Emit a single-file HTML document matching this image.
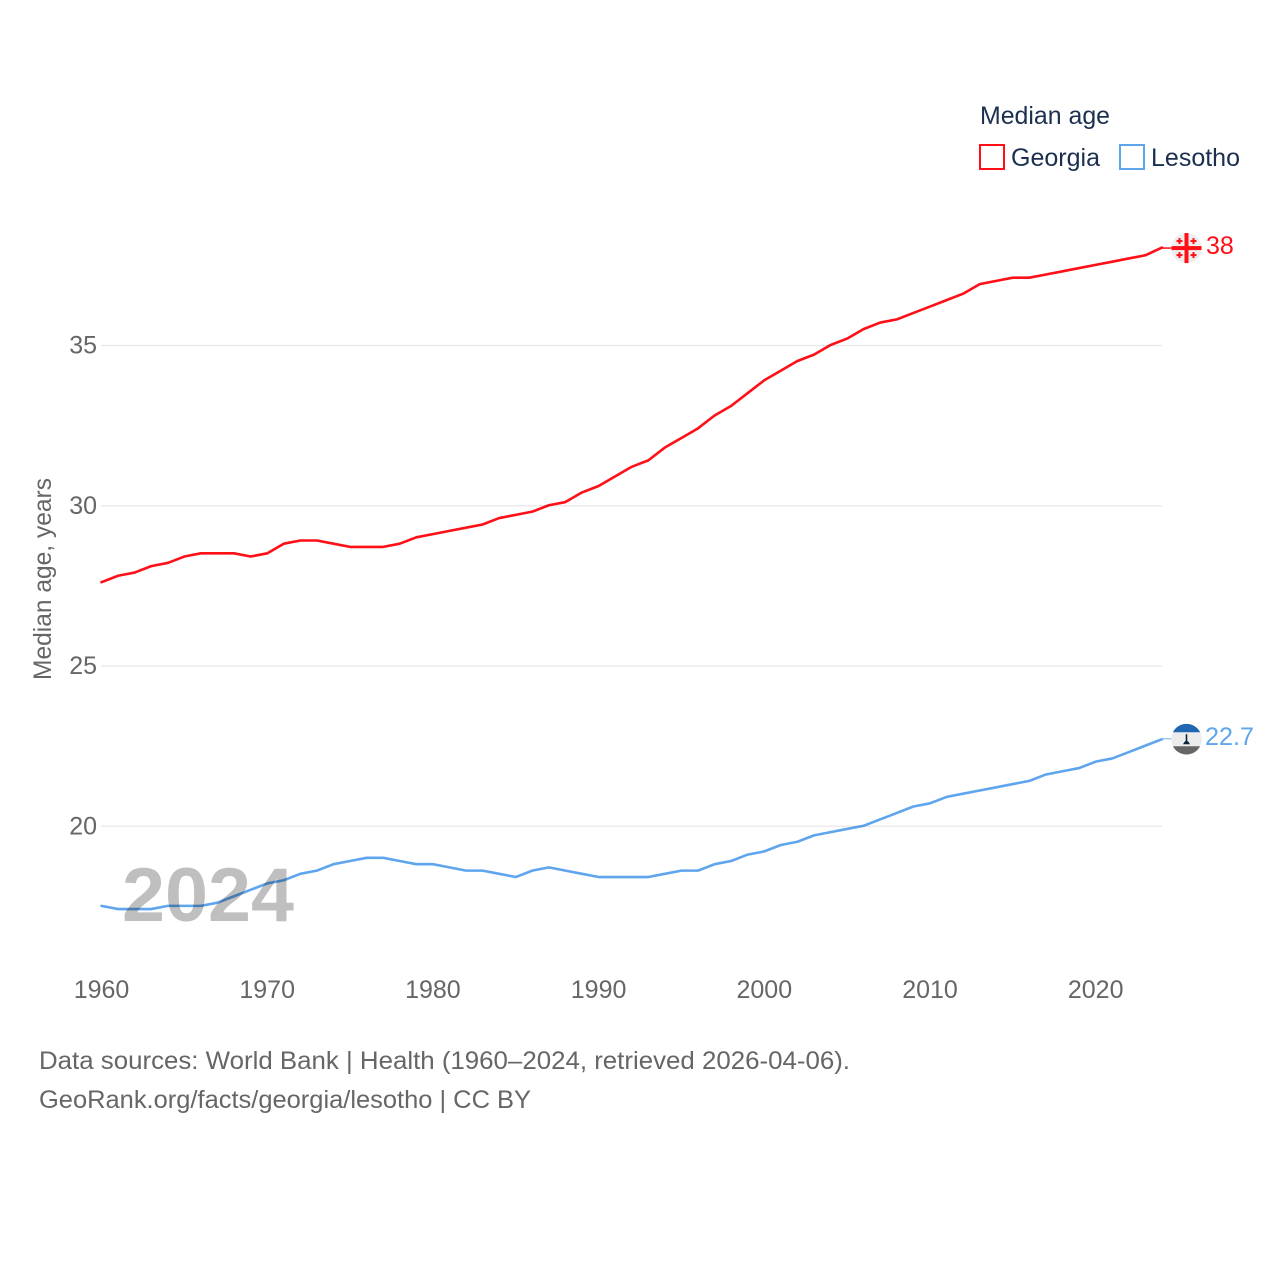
<!DOCTYPE html>
<html lang="en">
<head>
<meta charset="utf-8">
<title>Median age: Georgia and Lesotho</title>
<style>
html,body{margin:0;padding:0;background:#fff;width:1280px;height:1280px;overflow:hidden}
svg{display:block}
text{font-family:"Liberation Sans",sans-serif;font-size:25px}
</style>
</head>
<body>
<svg id="chart" xmlns="http://www.w3.org/2000/svg" width="1280" height="1280" viewBox="0 0 1280 1280">
  <text x="122" y="921" textLength="172" lengthAdjust="spacingAndGlyphs" style="font-size:76px;font-weight:700" fill="#bfbfbf">2024</text>
  <g id="grid"></g>
  <g id="yticks"></g>
  <g id="xticks"></g>
  <text transform="translate(51,680) rotate(-90)" textLength="202" lengthAdjust="spacingAndGlyphs" fill="#666666">Median age, years</text>
  <g id="series" transform="translate(0,-0.5)"></g>
  <g id="ends"></g>

  <g>
    <text x="980" y="124" textLength="130" lengthAdjust="spacingAndGlyphs" fill="#1b2f4f">Median age</text>
    <rect x="980" y="145" width="24" height="24" fill="#fff" stroke="#ff0f17" stroke-width="2"/>
    <text x="1011" y="166" textLength="89" lengthAdjust="spacingAndGlyphs" fill="#1b2f4f">Georgia</text>
    <rect x="1120" y="145" width="24" height="24" fill="#fff" stroke="#5fa5ee" stroke-width="2"/>
    <text x="1151" y="166" textLength="89" lengthAdjust="spacingAndGlyphs" fill="#1b2f4f">Lesotho</text>
  </g>

  <text x="39" y="1069" textLength="811" lengthAdjust="spacingAndGlyphs" fill="#666666">Data sources: World Bank | Health (1960–2024, retrieved 2026-04-06).</text>
  <text x="39" y="1108" textLength="492" lengthAdjust="spacingAndGlyphs" fill="#666666">GeoRank.org/facts/georgia/lesotho | CC BY</text>
</svg>
<script>
const startYear = 1960;
const georgiaValues = [27.6,27.8,27.9,28.1,28.2,28.4,28.5,28.5,28.5,28.4,28.5,28.8,28.9,28.9,28.8,28.7,28.7,28.7,28.8,29.0,29.1,29.2,29.3,29.4,29.6,29.7,29.8,30.0,30.1,30.4,30.6,30.9,31.2,31.4,31.8,32.1,32.4,32.8,33.1,33.5,33.9,34.2,34.5,34.7,35.0,35.2,35.5,35.7,35.8,36.0,36.2,36.4,36.6,36.9,37.0,37.1,37.1,37.2,37.3,37.4,37.5,37.6,37.7,37.8,38.04];
const lesothoValues = [17.5,17.4,17.4,17.4,17.5,17.5,17.5,17.6,17.8,18.0,18.2,18.3,18.5,18.6,18.8,18.9,19.0,19.0,18.9,18.8,18.8,18.7,18.6,18.6,18.5,18.4,18.6,18.7,18.6,18.5,18.4,18.4,18.4,18.4,18.5,18.6,18.6,18.8,18.9,19.1,19.2,19.4,19.5,19.7,19.8,19.9,20.0,20.2,20.4,20.6,20.7,20.9,21.0,21.1,21.2,21.3,21.4,21.6,21.7,21.8,22.0,22.1,22.3,22.5,22.7];
const yTickValues = [20,25,30,35];
const xTickYears = [1960,1970,1980,1990,2000,2010,2020];

const NS = 'http://www.w3.org/2000/svg';
function xScale(year){ return 101.5 + (year - 1960) * 16.57; }
function yScale(v){ return 345.5 + (35 - v) * 32.05; }
function make(tag, attrs, parent, text){
  const el = document.createElementNS(NS, tag);
  for (const k in attrs) el.setAttribute(k, attrs[k]);
  if (text !== undefined) el.textContent = text;
  parent.appendChild(el);
  return el;
}

const grid = document.getElementById('grid');
const yticks = document.getElementById('yticks');
yTickValues.forEach(function(v){
  const y = yScale(v);
  const line = make('line', {x1:101, x2:1162, y1:y, y2:y, stroke:'#e8e8e8', 'stroke-width':1.2}, grid);
  
  
  const t = make('text', {x:97, y:y+8, 'text-anchor':'end', fill:'#666666'}, yticks, String(v));
  
  
});

const xticks = document.getElementById('xticks');
xTickYears.forEach(function(yr){
  const t = make('text', {x:xScale(yr), y:998, 'text-anchor':'middle', fill:'#666666'}, xticks, String(yr));
  
  
});

function linePoints(values){
  return values.map(function(v,i){ return xScale(startYear + i).toFixed(2) + ',' + yScale(v).toFixed(2); }).join(' ');
}
const series = document.getElementById('series');

const georgiaLine = make('polyline', {points:linePoints(georgiaValues), fill:'none', stroke:'#ff0f17', 'stroke-width':2.6, 'stroke-linejoin':'round', 'stroke-linecap':'round', style:'mix-blend-mode:multiply'}, series);



const lesothoLine = make('polyline', {points:linePoints(lesothoValues), fill:'none', stroke:'#5fa5ee', 'stroke-width':2.6, 'stroke-linejoin':'round', 'stroke-linecap':'round', style:'mix-blend-mode:multiply'}, series);



const ends = document.getElementById('ends');
const flagX = 1186.5;
const lastYear = startYear + georgiaValues.length - 1;

/* Georgia end marker */
const gv = georgiaValues[georgiaValues.length - 1];
const gy = yScale(gv);
const gFlag = make('g', {transform:'translate(' + flagX + ',' + gy + ')'}, ends);


make('line', {x1:xScale(lastYear)-flagX, x2:-14, y1:0, y2:0, stroke:'#ff0f17', 'stroke-width':1.5}, gFlag);
make('circle', {r:15.2, fill:'#eeeeee'}, gFlag);
make('rect', {x:-15, y:-2, width:30, height:4, fill:'#ff0f17'}, gFlag);
make('rect', {x:-2, y:-15, width:4, height:30, fill:'#ff0f17'}, gFlag);
[[-7,-7],[7,-7],[-7,7],[7,7]].forEach(function(c){
  make('rect', {x:c[0]-3, y:c[1]-1, width:6, height:2, fill:'#ff0f17'}, gFlag);
  make('rect', {x:c[0]-1, y:c[1]-3, width:2, height:6, fill:'#ff0f17'}, gFlag);
});
const gLabel = make('text', {x:1206, y:gy+6, fill:'#ff0f17'}, ends, String(Number(gv.toFixed(0))));



/* Lesotho end marker */
const lv = lesothoValues[lesothoValues.length - 1];
const ly = yScale(lv);
const lFlag = make('g', {transform:'translate(' + flagX + ',' + (ly-0.5) + ')'}, ends);


make('line', {x1:xScale(lastYear)-flagX, x2:-14, y1:-0.5, y2:-0.5, stroke:'#9cc6f2', 'stroke-width':1.5}, lFlag);
make('circle', {r:15.3, fill:'#ececec'}, lFlag);
make('path', {d:'M-13.6,-7 A15.3,15.3 0 0 1 13.6,-7 Z', fill:'#2166b3'}, lFlag);
make('path', {d:'M-13.6,7 A15.3,15.3 0 0 0 13.6,7 Z', fill:'#666666'}, lFlag);
make('rect', {x:-0.8, y:-5, width:1.6, height:7, fill:'#10243f'}, lFlag);
make('path', {d:'M-3.5,5 Q0,-2 3.5,5 Z', fill:'#10243f'}, lFlag);
const lLabel = make('text', {x:1205, y:ly+5.5, fill:'#5fa5ee', textLength:49, lengthAdjust:'spacingAndGlyphs'}, ends, String(lv));


</script>
</body>
</html>
